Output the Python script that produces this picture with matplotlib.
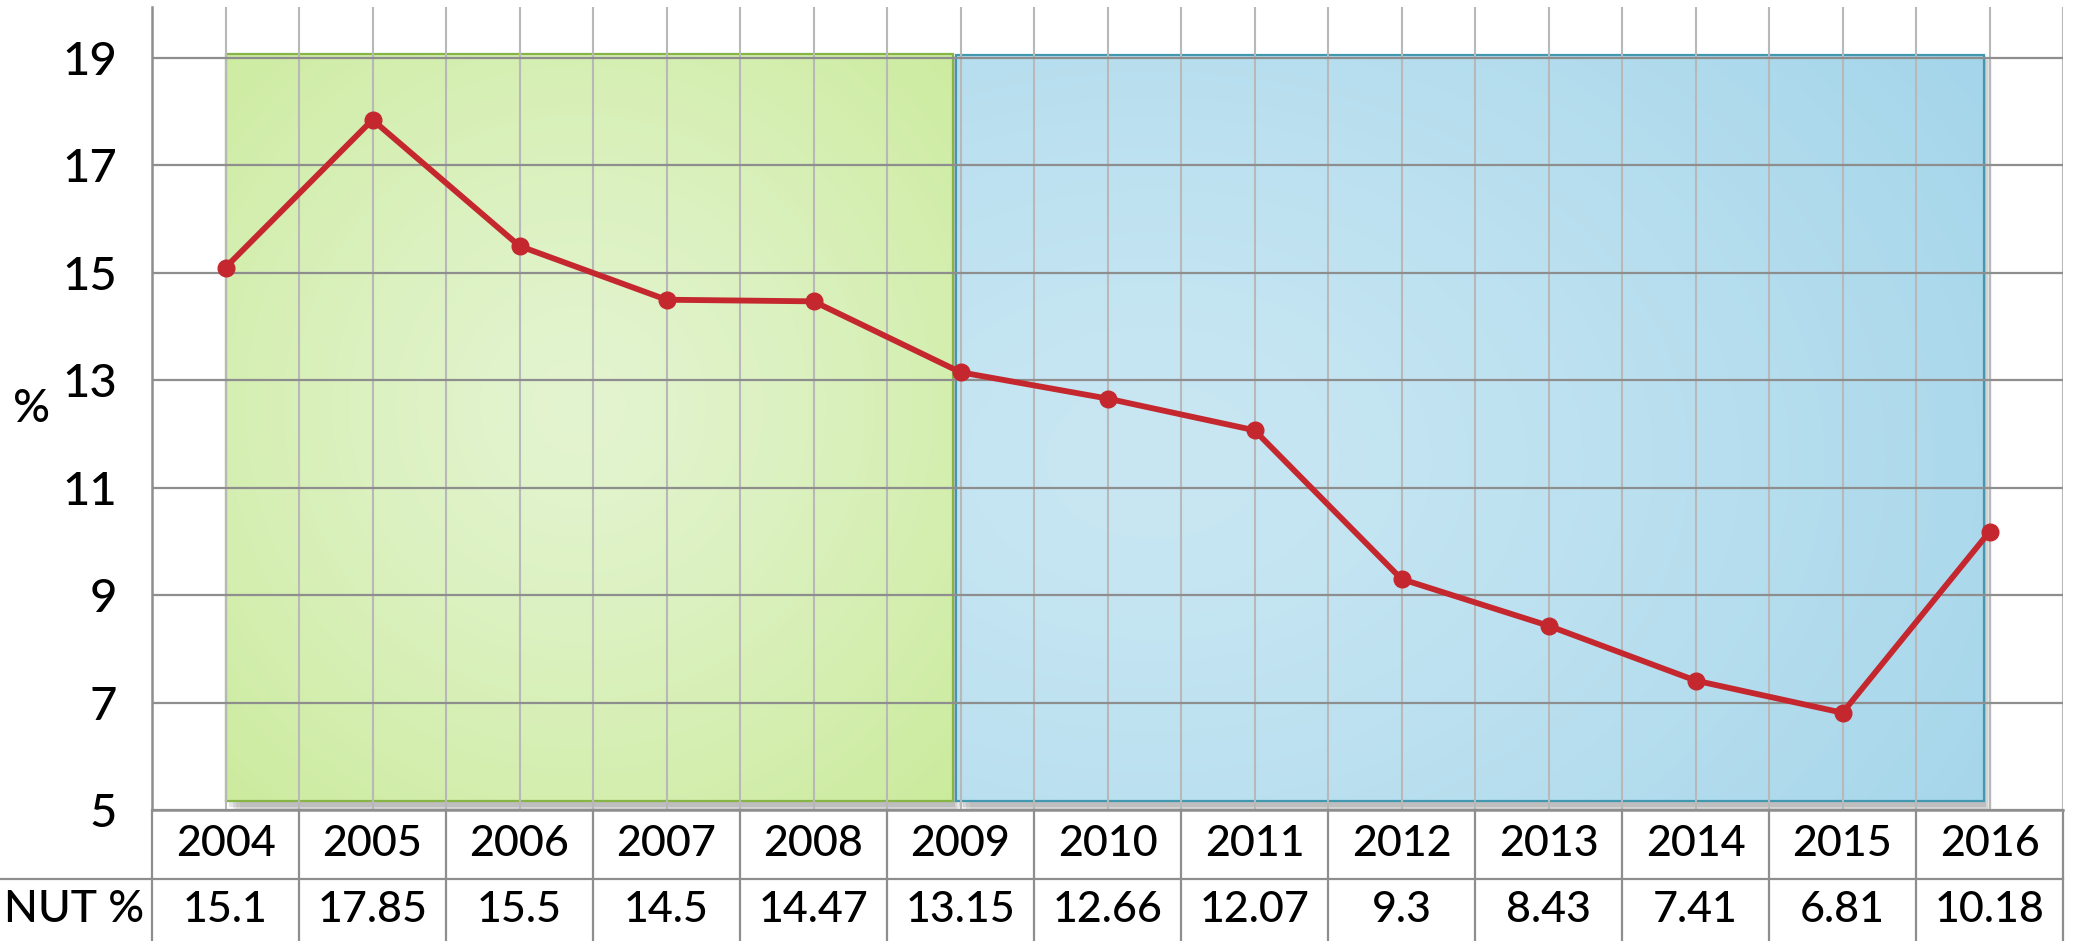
import numpy as np
import matplotlib
matplotlib.use("Agg")
import matplotlib.pyplot as plt
import matplotlib.transforms as mtransforms
from matplotlib.colors import to_rgb

# ---------------- data ----------------
years = ["2004", "2005", "2006", "2007", "2008", "2009", "2010",
         "2011", "2012", "2013", "2014", "2015", "2016"]
nut_pct = [15.1, 17.85, 15.5, 14.5, 14.47, 13.15, 12.66,
           12.07, 9.3, 8.43, 7.41, 6.81, 10.18]
nut_labels = ["15.1", "17.85", "15.5", "14.5", "14.47", "13.15", "12.66",
              "12.07", "9.3", "8.43", "7.41", "6.81", "10.18"]
y_ticks = [5, 7, 9, 11, 13, 15, 17, 19]
row_label = "NUT %"
y_label = "%"

plt.rcParams['font.family'] = ['Lato', 'DejaVu Sans']

W, H = 2075, 941
fig = plt.figure(figsize=(W / 100, H / 100), dpi=100)
ax_left, ax_right = 152 / W, 2063 / W
ax_bot, ax_top = 1 - 810 / H, 1 - 7 / H
ax = fig.add_axes([ax_left, ax_bot, ax_right - ax_left, ax_top - ax_bot])

x = np.arange(len(years))

# ---------------- shaded periods (gradient) ----------------
def gradient_rect(x0, x1, y0, y1, c_light, c_dark, cx, cy, edge):
    nx, ny = 300, 200
    gx = np.linspace(x0, x1, nx)
    gy = np.linspace(y0, y1, ny)
    XX, YY = np.meshgrid(gx, gy)
    d = np.sqrt(((XX - cx) / (x1 - x0)) ** 2 + ((YY - cy) / (y1 - y0)) ** 2)
    d = np.clip(d / d.max(), 0, 1) ** 1.3
    cl = np.array(to_rgb(c_light)); cd = np.array(to_rgb(c_dark))
    img = cl[None, None, :] * (1 - d[..., None]) + cd[None, None, :] * d[..., None]
    for k, a in enumerate([0.10, 0.08, 0.06, 0.04]):
        off = 0.012 * (k + 1)
        ax.fill_between([x0 + off * 2, x1 + off * 1.2], y0 - off * 9, y1 - off * 2,
                        color="black", alpha=a, lw=0, zorder=0.15)
    ax.imshow(img, extent=[x0, x1, y0, y1], origin="lower", aspect="auto",
              zorder=0.2, interpolation="bilinear")
    ax.plot([x0, x1, x1, x0, x0], [y0, y0, y1, y1, y0], color=edge, lw=1.6,
            zorder=0.3, solid_joinstyle="miter")

gradient_rect(0.0, 4.946, 5.17, 19.07, "#e3f4d0", "#cbeb9c", 2.4, 12.5, "#86b446")
gradient_rect(4.966, 11.96, 5.17, 19.06, "#c9e7f3", "#a4d5ea", 6.3, 11.5, "#4198b0")
ax.set_ylim(5, 19.95)
ax.set_xlim(-0.5, len(years) - 0.5)

# ---------------- grid ----------------
ax.set_axisbelow(True)
ax.set_yticks(y_ticks)
ax.set_yticklabels([str(v) for v in y_ticks], fontsize=34, color="black",
                   fontweight="medium")
ax.set_xticks(x)
ax.set_xticks(np.arange(-0.5, len(years), 1.0), minor=True)
ax.tick_params(axis="x", which="both", length=0, labelbottom=False)
ax.tick_params(axis="y", length=0, pad=25)
ax.grid(axis="y", color="#8e8e8e", lw=1.6)
ax.grid(axis="x", which="both", color="#b8b8b8", lw=1.5)
for s in ["top", "bottom", "right"]:
    ax.spines[s].set_visible(False)
ax.spines["left"].set_color("#8e8e8e")
ax.spines["left"].set_linewidth(1.8)

# ---------------- line ----------------
ax.plot(x, nut_pct, color="#c4282e", lw=4.2, marker="o", markersize=12,
        zorder=3, solid_capstyle="round")

# ---------------- y label ----------------
fig.text(32 / W, 1 - 409 / H, y_label, fontsize=33, ha="center", va="center",
         fontweight="medium")

# ---------------- table ----------------
tr = mtransforms.blended_transform_factory(ax.transData, fig.transFigure)
y_t = ax_bot
y_m = 1 - 879 / H
y_b = 0.0
gcol = "#8e8e8e"
for b in np.arange(-0.5, len(years), 1.0):
    ax.plot([b, b], [y_b, y_t], transform=tr, color=gcol, lw=1.6, clip_on=False)
ax.plot([-0.5, len(years) - 0.5], [y_t, y_t], transform=tr, color=gcol, lw=1.8, clip_on=False)
fig.add_artist(plt.Line2D([0, ax_right], [y_m, y_m], color=gcol, lw=1.6))
for i, (yr, lab) in enumerate(zip(years, nut_labels)):
    ax.text(i, (y_t + y_m) / 2, yr, transform=tr, ha="center", va="center",
            fontsize=31, clip_on=False, fontweight="medium")
    ax.text(i, (y_m + y_b) / 2, lab, transform=tr, ha="center", va="center",
            fontsize=31, clip_on=False, fontweight="medium")
fig.text(74 / W, (y_m + y_b) / 2, row_label, ha="center", va="center", fontsize=32,
         fontweight="medium")

fig.savefig("out.png", dpi=100)
